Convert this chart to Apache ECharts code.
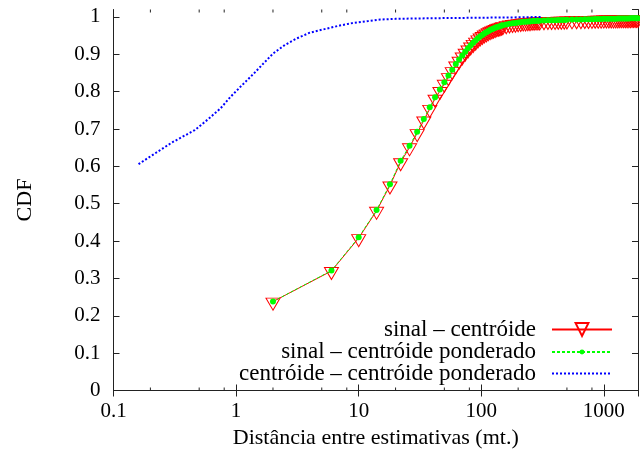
<!DOCTYPE html>
<html>
<head>
<meta charset="utf-8">
<script src="https://cdn.jsdelivr.net/npm/echarts@6/dist/echarts.min.js"></script>
<style>html,body{margin:0;padding:0;background:#fff;}#c{width:640px;height:461px;}</style>
</head>
<body>
<div id="c"></div>
<script>
// Distances (m) at which the two "sinal" CDFs are sampled
const distX = [2,6,10,14,18,22,26,30,34,38,42,46,50,54,58,62,66,70,74,78,82,86,90,94,98,102,106,110,114,118,122,126,130,134,138,142,146,150,
  160,170,180,190,200,210,220,230,240,250,260,270,280,290,300,
  325,350,375,400,425,450,475,500,
  550,600,650,700,750,800,850,900,950,1000,1050,1100,1150,1200,1250,1300,1350,1400,1450,1500,1550,1600,1650,1700,1750,1800,1850,1900,1950,2000];
// sinal – centróide
const sinalCentroide = [.238,.320,.408,.481,.549,.611,
  .651,.689,.723,.754,.781,.802,.821,.839,.855,.870,.883,.894,.904,.913,.921,.928,.934,.940,.945,.949,.953,.956,.959,.962,.964,.966,.968,.970,.971,.972,.974,.975,
  .978,.980,.981,.982,.983,.984,.985,.985,.986,.986,.987,.987,.988,.988,.988,
  .9885,.989,.9892,.9895,.9898,.99,.9902,.9905,
  .991,.9912,.9915,.9917,.992,.9922,.9924,.9926,.9928,.993,.9931,.9932,.9933,.9934,.9935,.9936,.9937,.9938,.9939,.994,.9941,.9942,.9943,.9944,.9945,.9946,.9947,.9948,.9949,.995];
// sinal – centróide ponderado
const sinalPonderado = [.238,.321,.410,.483,.552,.615,
  .655,.693,.727,.758,.785,.806,.825,.843,.859,.874,.886,.897,.907,.916,.924,.931,.937,.943,.948,.952,.956,.959,.962,.965,.967,.969,.971,.973,.974,.975,.977,.978,
  .980,.982,.983,.984,.985,.986,.987,.987,.988,.988,.989,.989,.990,.990,.990,
  .9905,.991,.9912,.9915,.9918,.992,.9922,.9925,
  .993,.9932,.9935,.9937,.994,.9942,.9944,.9946,.9948,.995,.9951,.9952,.9953,.9954,.9955,.9956,.9957,.9958,.9959,.996,.9961,.9962,.9963,.9964,.9965,.9966,.9967,.9968,.9969,.997];
// centróide – centróide ponderado
const centX = [0.16,0.3,0.46,0.6,0.75,0.9,1.1,1.4,1.7,2.0,2.5,3.1,4,5.5,7,9,12,15,20,30,50,100,200,310];
const centY = [0.606,0.664,0.697,0.728,0.756,0.786,0.815,0.849,0.878,0.902,0.925,0.942,0.958,0.969,0.977,0.984,0.989,0.993,0.995,0.996,0.997,0.998,0.999,1.0];
// minor ticks on the log axis
const minorTicks = [0.2,0.5,0.8,2,5,8,20,50,80,200,500,800];
const yTicks = [0,0.1,0.2,0.3,0.4,0.5,0.6,0.7,0.8,0.9,1];

const names = ['sinal – centróide','sinal – centróide ponderado','centróide – centróide ponderado'];
const FONT = 'Liberation Serif';
const XMIN = 0.1, XMAX = 1900, YMIN = 0, YMAX = 1.02;
const pair = (xs, ys) => xs.map((x, i) => [x, ys[i]]);

const chart = echarts.init(document.getElementById('c'), null, {renderer: 'canvas'});
const axisLine = {show: true, lineStyle: {color: '#222', width: 1}};
const tick = {show: true, inside: true, length: 6, lineStyle: {color: '#222', width: 1}};
const xFmt = v => String(+(+v).toPrecision(4));

const legendBase = {
  orient: 'horizontal', align: 'right', right: 27, padding: 0, itemWidth: 60,
  selectedMode: false,
  textStyle: {fontFamily: FONT, fontSize: 23, color: '#000', padding: [0, 11, 0, 0]}
};

chart.setOption({
  animation: false,
  backgroundColor: '#fff',
  grid: {left: 113.5, right: 2, top: 9.5, bottom: 70.5, containLabel: false},
  legend: [
    Object.assign({}, legendBase, {data: [names[0]], top: 318, itemHeight: 16}),
    Object.assign({}, legendBase, {data: [names[1]], top: 340.5, itemHeight: 6}),
    Object.assign({}, legendBase, {data: [names[2]], top: 362, itemHeight: 16, itemStyle: {opacity: 0}})
  ],
  xAxis: [{
    type: 'log', logBase: 10, min: XMIN, max: XMAX, position: 'bottom',
    axisLine: axisLine, axisTick: tick, splitLine: {show: false},
    axisLabel: {formatter: xFmt, showMaxLabel: false, margin: 10, fontFamily: FONT, fontSize: 21, color: '#000'},
    name: 'Distância entre estimativas (mt.)', nameLocation: 'middle', nameGap: 37,
    nameTextStyle: {fontFamily: FONT, fontSize: 22, color: '#000'}
  }, {
    type: 'log', logBase: 10, min: XMIN, max: XMAX, position: 'top',
    axisLine: axisLine, axisTick: tick, splitLine: {show: false}, axisLabel: {show: false}
  }],
  yAxis: [{
    type: 'value', min: YMIN, max: YMAX, interval: 0.1, position: 'left',
    axisLine: axisLine, axisTick: tick, splitLine: {show: false},
    axisLabel: {showMaxLabel: false, margin: 13, fontFamily: FONT, fontSize: 21, color: '#000',
      formatter: v => yTicks.indexOf(+v.toFixed(2)) >= 0 ? String(+v.toFixed(2)) : ''},
    name: 'CDF', nameLocation: 'middle', nameGap: 77,
    nameTextStyle: {fontFamily: FONT, fontSize: 22, color: '#000'}
  }, {
    type: 'value', min: YMIN, max: YMAX, interval: 0.1, position: 'right',
    axisLine: axisLine, axisTick: tick, splitLine: {show: false}, axisLabel: {show: false}
  }],
  series: [{
    name: names[0], type: 'line', data: pair(distX, sinalCentroide),
    color: '#ff0000',
    lineStyle: {color: '#ff0000', width: 1, type: 'solid'},
    symbol: 'triangle', symbolRotate: 180, symbolSize: [14, 12], symbolOffset: [0, 2.5],
    showAllSymbol: true,
    itemStyle: {color: 'rgba(0,0,0,0)', borderColor: '#ff0000', borderWidth: 1},
    z: 2
  }, {
    name: names[1], type: 'line', data: pair(distX, sinalPonderado),
    color: '#00ff00',
    lineStyle: {color: '#00ff00', width: 1, type: [3, 2]},
    symbol: 'circle', symbolSize: 6, showAllSymbol: true,
    itemStyle: {color: '#00ff00', borderWidth: 0},
    z: 3
  }, {
    name: names[2], type: 'line', data: pair(centX, centY),
    color: '#0000ff',
    lineStyle: {color: '#0000ff', width: 2, type: [2, 2]},
    symbol: 'none', showSymbol: false,
    z: 4
  }, {
    type: 'custom', data: minorTicks.map(v => [v, 0]), silent: true, clip: false, z: 5,
    renderItem: (params, api) => {
      const v = api.value(0);
      const b = api.coord([v, YMIN]);
      const t = api.coord([v, YMAX]);
      const st = {stroke: '#222', lineWidth: 1};
      return {type: 'group', children: [
        {type: 'line', shape: {x1: b[0], y1: b[1], x2: b[0], y2: b[1] - 3}, style: st},
        {type: 'line', shape: {x1: t[0], y1: t[1], x2: t[0], y2: t[1] + 3}, style: st}
      ]};
    }
  }]
});
</script>
</body>
</html>
